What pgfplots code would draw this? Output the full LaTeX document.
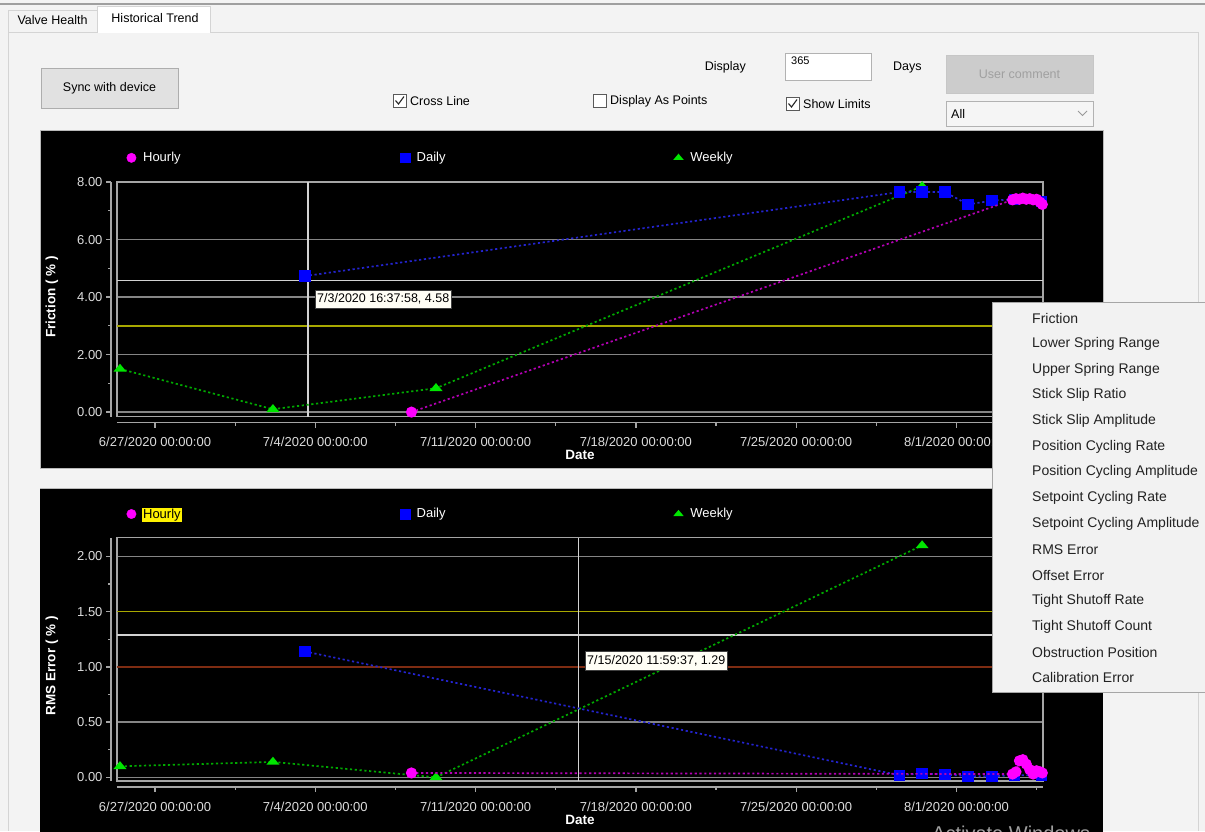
\documentclass[border=0pt]{standalone}
\usepackage{pgfplots}
\usepackage{pgfplotstable}
\pgfplotsset{compat=1.18}
\usepackage{fontspec}
\setmainfont{Liberation Sans}

\definecolor{winbg}{HTML}{F3F3F3}
\definecolor{frame}{HTML}{D4D4D4}
\definecolor{gridg}{HTML}{858585}
\definecolor{boxg}{HTML}{A5A5A5}
\definecolor{ticktxt}{HTML}{DCDCDC}
\definecolor{hourly}{HTML}{FF00FF}
\definecolor{hourlyline}{HTML}{B400B4}
\definecolor{daily}{HTML}{0000FF}
\definecolor{dailyline}{HTML}{2424D0}
\definecolor{weekly}{HTML}{00E600}
\definecolor{weeklyline}{HTML}{00AA00}
\definecolor{limyellow}{HTML}{A8A800}
\definecolor{limred}{HTML}{7E2C12}
\definecolor{crossc}{HTML}{D2D2D2}
\definecolor{menutxt}{HTML}{222222}
\definecolor{btnfill}{HTML}{E1E1E1}
\definecolor{btnline}{HTML}{ADADAD}
\definecolor{disfill}{HTML}{CCCCCC}
\definecolor{distxt}{HTML}{A0A0A0}
\definecolor{menufill}{HTML}{F2F2F2}

\newcommand\chartfont{\fontsize{13}{15}\selectfont}
\newcommand\uifont{\fontsize{12.5}{14}\selectfont}
\newcommand\menufont{\fontsize{14}{16}\selectfont}

\tikzset{offax/.style={boxg, line width=1.3pt}}

% Friction (%) -- x = days after 6/27/2020 00:00
\pgfplotstableread{
d v
11.2 0.00
37.45 7.38
37.6 7.42
37.75 7.40
37.9 7.44
38.05 7.40
38.2 7.42
38.35 7.38
38.5 7.40
38.65 7.30
38.75 7.22
}\FricHourly
\pgfplotstableread{
d v
6.55 4.73
32.5 7.65
33.5 7.65
34.5 7.65
35.5 7.22
36.55 7.35
37.55 7.40
38.7 7.33
}\FricDaily
\pgfplotstableread{
d v
-1.53 1.50
5.15 0.10
12.27 0.83
33.5 7.85
}\FricWeekly
% RMS Error (%)
\pgfplotstableread{
d v
11.2 0.04
37.45 0.03
37.6 0.05
37.75 0.15
37.9 0.16
38.05 0.12
38.2 0.07
38.35 0.03
38.5 0.06
38.65 0.05
38.75 0.04
}\RmsHourly
\pgfplotstableread{
d v
6.55 1.14
32.5 0.02
33.5 0.035
34.5 0.027
35.5 0.01
36.55 0.01
37.55 0.02
38.7 0.02
}\RmsDaily
\pgfplotstableread{
d v
-1.53 0.10
5.15 0.14
12.27 0.00
33.5 2.10
}\RmsWeekly

\pgfplotsset{
  trend/.style={
    scale only axis, width=926pt,
    xmin=-1.66, xmax=38.78,
    axis background/.style={fill=black},
    axis line style={draw=none},
    major tick length=0pt, minor tick length=0pt,
    xtick={0,7,14,21,28,35},
    xticklabels={6/27/2020 00:00:00,7/4/2020 00:00:00,7/11/2020 00:00:00,7/18/2020 00:00:00,7/25/2020 00:00:00,8/1/2020 00:00:00},
    /pgf/number format/assume math mode=true,
    yticklabel style={/pgf/number format/fixed, /pgf/number format/fixed zerofill, /pgf/number format/precision=2},
    tick label style={font=\chartfont, text=ticktxt},
    xticklabel style={anchor=center, yshift=-25.5pt},
    yticklabel style={anchor=east, xshift=-11pt},
    ymajorgrids, grid style={gridg, line width=1.5pt},
    clip mode=individual,
    xlabel={Date},
    xlabel style={font=\bfseries\fontsize{13.5}{15}\selectfont, text=white, at={(axis description cs:0.5,0)}, anchor=center},
    ylabel style={font=\bfseries\fontsize{13.5}{15}\selectfont, text=white, anchor=center},
    legend columns=3,
    legend image code/.code={\draw[#1] plot coordinates {(0pt,0pt)};},
    legend style={draw=none, fill=none, text=white, font=\chartfont, inner sep=0pt, anchor=west},
    hline/.style={no marks, forget plot, line width=1.5pt},
    ser/.style={forget plot, line width=1.7pt, dash pattern=on 2.2pt off 2.6pt},
    hmk/.style={ser, hourlyline, mark=*, mark size=4.7pt, mark options={solid, fill=hourly, draw=hourly}},
    dmk/.style={ser, dailyline, mark=square*, mark size=4.8pt, mark options={solid, fill=daily, draw=daily}},
    wmk/.style={ser, weeklyline, mark=triangle*, mark size=5.5pt, mark options={solid, fill=weekly, draw=weekly, yscale=0.7}},
  }
}

\begin{document}
\begin{tikzpicture}
\useasboundingbox (0,0) rectangle (1205pt,-831pt);
\begin{scope}
\clip (0,0) rectangle (1205pt,-831pt);

% ---------- window chrome ----------
\begin{scope}[x=1pt,y=-1pt]
\fill[winbg] (0,0) rectangle (1205,831);
\draw[gray!75, line width=1.5pt] (0,4) -- (1205,4);
\draw[frame] (8,32) -- (8,831);
\draw[frame] (210,32) -- (1198,32) -- (1198,831);
\draw[frame] (8,32) -- (97,32);
\draw[frame] (8,32) -- (8,10) -- (97,10);
\fill[white] (97,6) rectangle (210,33);
\draw[frame] (97,33) -- (97,6) -- (210,6) -- (210,33);
\node[font=\uifont] at (52.5,20.5) {Valve Health};
\node[font=\uifont] at (155,18.5) {Historical Trend};

\draw[btnline, fill=btnfill] (41,68) rectangle (178,108);
\node[font=\uifont] at (109.5,88) {Sync with device};

\draw[gray!70!black, fill=white] (393,94) rectangle (406,107);
\draw[black!85, line width=1.1pt] (395.5,100.5) -- (398.5,104) -- (404,96.5);
\node[anchor=west, font=\uifont, inner sep=1pt] at (409,101) {Cross Line};
\draw[gray!70!black, fill=white] (593,94) rectangle (606,107);
\node[anchor=west, font=\uifont, inner sep=1pt] at (609,101) {Display As Points};
\draw[gray!70!black, fill=white] (786,97) rectangle (799,110);
\draw[black!85, line width=1.1pt] (788.5,103.5) -- (791.5,107) -- (797,99.5);
\node[anchor=west, font=\uifont, inner sep=1pt] at (802,104) {Show Limits};

\node[anchor=east, font=\uifont, inner sep=1pt] at (747,67) {Display};
\draw[gray!60, fill=white] (785,53) rectangle (871,80);
\node[anchor=north west, font=\fontsize{11}{13}\selectfont, inner sep=1pt] at (790,56) {365};
\node[anchor=west, font=\uifont, inner sep=1pt] at (892,67) {Days};

\draw[gray!45, fill=disfill] (946,55) rectangle (1093,93);
\node[font=\uifont, text=distxt] at (1019.5,74) {User comment};
\draw[gray!60, fill=white!96!black] (946,101) rectangle (1093,126);
\node[anchor=west, font=\uifont, inner sep=1pt] at (950,114) {All};
\draw[gray!80, line width=0.9pt] (1078,111) -- (1082.5,115.5) -- (1087,111);

\fill[black] (40,130) rectangle (1103,468);
\draw[gray!55] (40,130) rectangle (1103,468);
\fill[black] (40,488) rectangle (1103,845);
\draw[gray!55] (40,488) -- (1103,488);
\end{scope}

% ---------- Friction ----------
\begin{axis}[trend, at={(117pt,-416.7pt)}, anchor=south west, height=234.7pt,
  ymin=-0.16, ymax=8, ytick={0,2,4,6,8},
  ylabel={Friction ( \% )},
  ylabel style={at={(axis description cs:-0.0702,0.51)}},
  xlabel style={yshift=-38pt},
  legend style={at={(axis description cs:0.0103,1.103)}}]
\addlegendimage{draw=none, mark=*, hourly, mark size=4.7pt}
\addlegendentry{\makebox[260pt][l]{\hspace{5pt}Hourly}}
\addlegendimage{draw=none, mark=square*, daily, mark size=4.8pt}
\addlegendentry{\makebox[260pt][l]{\hspace{5pt}Daily}}
\addlegendimage{draw=none, mark=triangle*, weekly, mark size=5.5pt, mark options={yscale=0.7}}
\addlegendentry{\hspace{5pt}Weekly}
\draw[boxg, line width=1.5pt] (rel axis cs:0,0) rectangle (rel axis cs:1,1);
\draw[offax] ([yshift=-6pt]rel axis cs:0,0) -- ([yshift=-6pt]rel axis cs:1,0);
\draw[offax] ([xshift=-6pt]rel axis cs:0,0) -- ([xshift=-6pt]rel axis cs:0,1);
\pgfplotsinvokeforeach{0,7,14,21,28,35}{\draw[offax] ([yshift=-6pt]axis cs:#1,-0.16) -- ++(0pt,-5pt);}
\pgfplotsinvokeforeach{3.5,10.5,17.5,24.5,31.5,38.5}{\draw[offax] ([yshift=-6pt]axis cs:#1,-0.16) -- ++(0pt,-3pt);}
\pgfplotsinvokeforeach{0,2,4,6,8}{\draw[offax] ([xshift=-6pt]axis cs:-1.66,#1) -- ++(-5pt,0pt);}
\pgfplotsinvokeforeach{1,3,5,7}{\draw[offax] ([xshift=-6pt]axis cs:-1.66,#1) -- ++(-3pt,0pt);}
\addplot[hline, limyellow] coordinates {(-1.66,3) (38.78,3)};
\addplot[hline, crossc] coordinates {(-1.66,4.58) (38.78,4.58)};
\addplot[hline, crossc] coordinates {(6.69,-0.16) (6.69,8)};
\addplot[wmk] table[x=d,y=v] {\FricWeekly};
\addplot[dmk] table[x=d,y=v] {\FricDaily};
\addplot[hmk] table[x=d,y=v] {\FricHourly};
\end{axis}

% ---------- RMS Error ----------
\begin{axis}[trend, at={(117pt,-781pt)}, anchor=south west, height=243.3pt,
  ymin=-0.033, ymax=2.17, ytick={0,0.5,1,1.5,2},
  ylabel={RMS Error ( \% )},
  ylabel style={at={(axis description cs:-0.0702,0.473)}},
  xlabel style={yshift=-39pt},
  legend style={at={(axis description cs:0.0103,1.0974)}}]
\addlegendimage{draw=none, mark=*, hourly, mark size=4.7pt}
\addlegendentry{\makebox[260pt][l]{\hspace{4pt}\setlength{\fboxsep}{1pt}\colorbox{yellow}{\color{black}Hourly}}}
\addlegendimage{draw=none, mark=square*, daily, mark size=4.8pt}
\addlegendentry{\makebox[260pt][l]{\hspace{5pt}Daily}}
\addlegendimage{draw=none, mark=triangle*, weekly, mark size=5.5pt, mark options={yscale=0.7}}
\addlegendentry{\hspace{5pt}Weekly}
\draw[boxg, line width=1.5pt] (rel axis cs:0,0) rectangle (rel axis cs:1,1);
\draw[offax] ([yshift=-6pt]rel axis cs:0,0) -- ([yshift=-6pt]rel axis cs:1,0);
\draw[offax] ([xshift=-6pt]rel axis cs:0,0) -- ([xshift=-6pt]rel axis cs:0,1);
\pgfplotsinvokeforeach{0,7,14,21,28,35}{\draw[offax] ([yshift=-6pt]axis cs:#1,-0.033) -- ++(0pt,-5pt);}
\pgfplotsinvokeforeach{3.5,10.5,17.5,24.5,31.5,38.5}{\draw[offax] ([yshift=-6pt]axis cs:#1,-0.033) -- ++(0pt,-3pt);}
\pgfplotsinvokeforeach{0,0.5,1,1.5,2}{\draw[offax] ([xshift=-6pt]axis cs:-1.66,#1) -- ++(-5pt,0pt);}
\pgfplotsinvokeforeach{0.25,0.75,1.25,1.75}{\draw[offax] ([xshift=-6pt]axis cs:-1.66,#1) -- ++(-3pt,0pt);}
\addplot[hline, limyellow] coordinates {(-1.66,1.5) (38.78,1.5)};
\addplot[hline, limred] coordinates {(-1.66,1.0) (38.78,1.0)};
\addplot[hline, crossc] coordinates {(-1.66,1.29) (38.78,1.29)};
\addplot[hline, crossc] coordinates {(18.5,-0.033) (18.5,2.17)};
\addplot[wmk] table[x=d,y=v] {\RmsWeekly};
\addplot[dmk] table[x=d,y=v] {\RmsDaily};
\addplot[hmk] table[x=d,y=v] {\RmsHourly};
\end{axis}

% ---------- overlays ----------
\begin{scope}[x=1pt,y=-1pt]
\node[draw=black!75, fill=yellow!4, text=black, font=\uifont, inner sep=2pt, anchor=north west, minimum height=18pt] at (315,290) {7/3/2020 16:37:58, 4.58};
\node[draw=black!75, fill=yellow!4, text=black, font=\uifont, inner sep=2pt, anchor=north west, minimum height=19pt] at (585,651) {7/15/2020 11:59:37, 1.29};
\draw[gray!70, fill=menufill] (992,302) rectangle (1215,692);
\foreach \t [count=\i from 0] in {Friction, Lower Spring Range, Upper Spring Range, Stick Slip Ratio, Stick Slip Amplitude, Position Cycling Rate, Position Cycling Amplitude, Setpoint Cycling Rate, Setpoint Cycling Amplitude, RMS Error, Offset Error, Tight Shutoff Rate, Tight Shutoff Count, Obstruction Position, Calibration Error}
  \node[anchor=west, font=\menufont, text=menutxt, inner sep=0pt] at (1032, {318+25.71*\i}) {\t};
\node[anchor=north west, text=gray!75, font=\fontsize{20}{24}\selectfont, inner sep=0pt] at (932,826) {Activate Windows};
\end{scope}
\end{scope}
\end{tikzpicture}
\end{document}
